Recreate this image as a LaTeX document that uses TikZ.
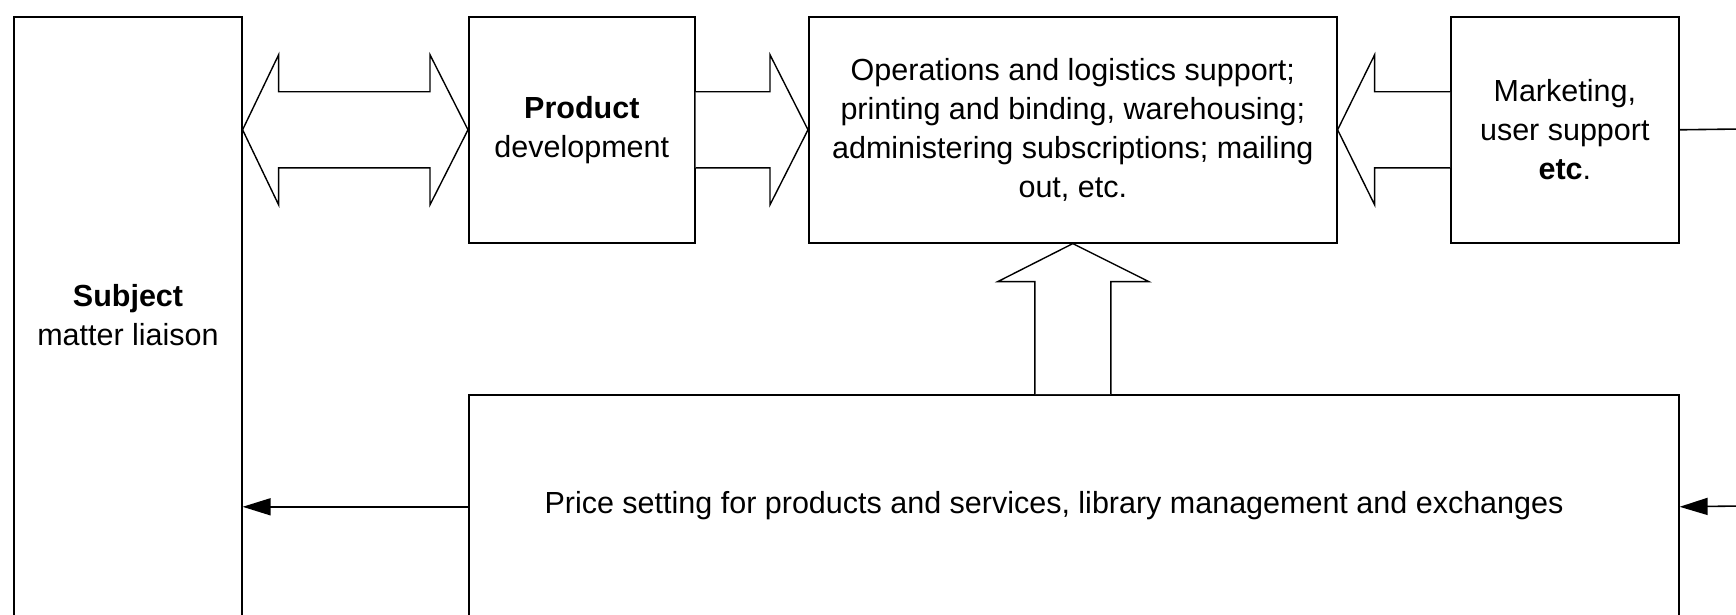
\documentclass[tikz,border=0pt]{standalone}
\usepackage{fontspec}
\setmainfont{Liberation Sans}
\usetikzlibrary{arrows.meta,calc}
\begin{document}
\begin{tikzpicture}[x=1pt,y=-1pt,
  box/.style={draw,line width=1.6pt,inner sep=0pt,anchor=north west,align=center,
    font=\fontsize{30.5}{39}\selectfont},
  txt/.style={inner sep=0pt,align=center,font=\fontsize{30.5}{39}\selectfont},
  blk/.style={draw,line width=1.4pt,fill=white,line join=miter},
  con/.style={line width=1.6pt,-{Triangle[length=28pt,width=17pt]}}]
\useasboundingbox (0,0) rectangle (1736,615);
\clip (0,0) rectangle (1736,615);
% boxes
\node[box,minimum width=228pt,minimum height=700pt] (subj) at (13,16) {};
\node[txt] (subjtxt) at (128,315) {\textbf{Subject}\\matter liaison};
\node[box,minimum width=226pt,minimum height=226pt] (prod) at (468,16) {\textbf{Product}\\development};
\node[box,minimum width=528pt,minimum height=226pt] (ops) at (808,16)
  {Operations and logistics support;\\printing and binding, warehousing;\\administering subscriptions; mailing\\out, etc.};
\node[box,minimum width=228pt,minimum height=226pt] (mkt) at (1450,16) {Marketing,\\user support\\\textbf{etc}.};
\node[box,minimum width=1210pt,minimum height=224pt] (price) at (468,394) {};
\node[txt] (ptxt) at (1054,506) {Price setting for products and services, library management and exchanges};
% block arrows
\coordinate (A) at (subj.east |- prod.west);
\coordinate (B) at (prod.west);
\draw[blk] (A) -- ([shift={(36,-75)}]A) -- ([shift={(36,-38)}]A) -- ([shift={(-38,-38)}]B)
  -- ([shift={(-38,-75)}]B) -- (B) -- ([shift={(-38,75)}]B) -- ([shift={(-38,38)}]B)
  -- ([shift={(36,38)}]A) -- ([shift={(36,75)}]A) -- cycle;
\coordinate (C) at (ops.west);
\draw[blk] ([shift={(0,-38)}]prod.east) -- ([shift={(-38,-38)}]C) -- ([shift={(-38,-75)}]C) -- (C)
  -- ([shift={(-38,75)}]C) -- ([shift={(-38,38)}]C) -- ([shift={(0,38)}]prod.east);
\coordinate (D) at (ops.east);
\draw[blk] ([shift={(0,-38)}]mkt.west) -- ([shift={(37,-38)}]D) -- ([shift={(37,-75)}]D) -- (D)
  -- ([shift={(37,75)}]D) -- ([shift={(37,38)}]D) -- ([shift={(0,38)}]mkt.west);
\coordinate (E) at (ops.south);
\coordinate (F) at (ops.south |- price.north);
\draw[blk] ([shift={(-38,0)}]F) -- ([shift={(-38,38)}]E) -- ([shift={(-75,38)}]E) -- (E)
  -- ([shift={(76,38)}]E) -- ([shift={(38,38)}]E) -- ([shift={(38,0)}]F);
% line connectors
\coordinate (rt1) at (1740,129);
\coordinate (rt2) at (1740,506);
\draw[line width=1.6pt] (mkt.east) -- (rt1);
\draw[con] (rt2) -- (price.east);
\draw[con] (price.west) -- (subj.east |- price.west);
\end{tikzpicture}
\end{document}
